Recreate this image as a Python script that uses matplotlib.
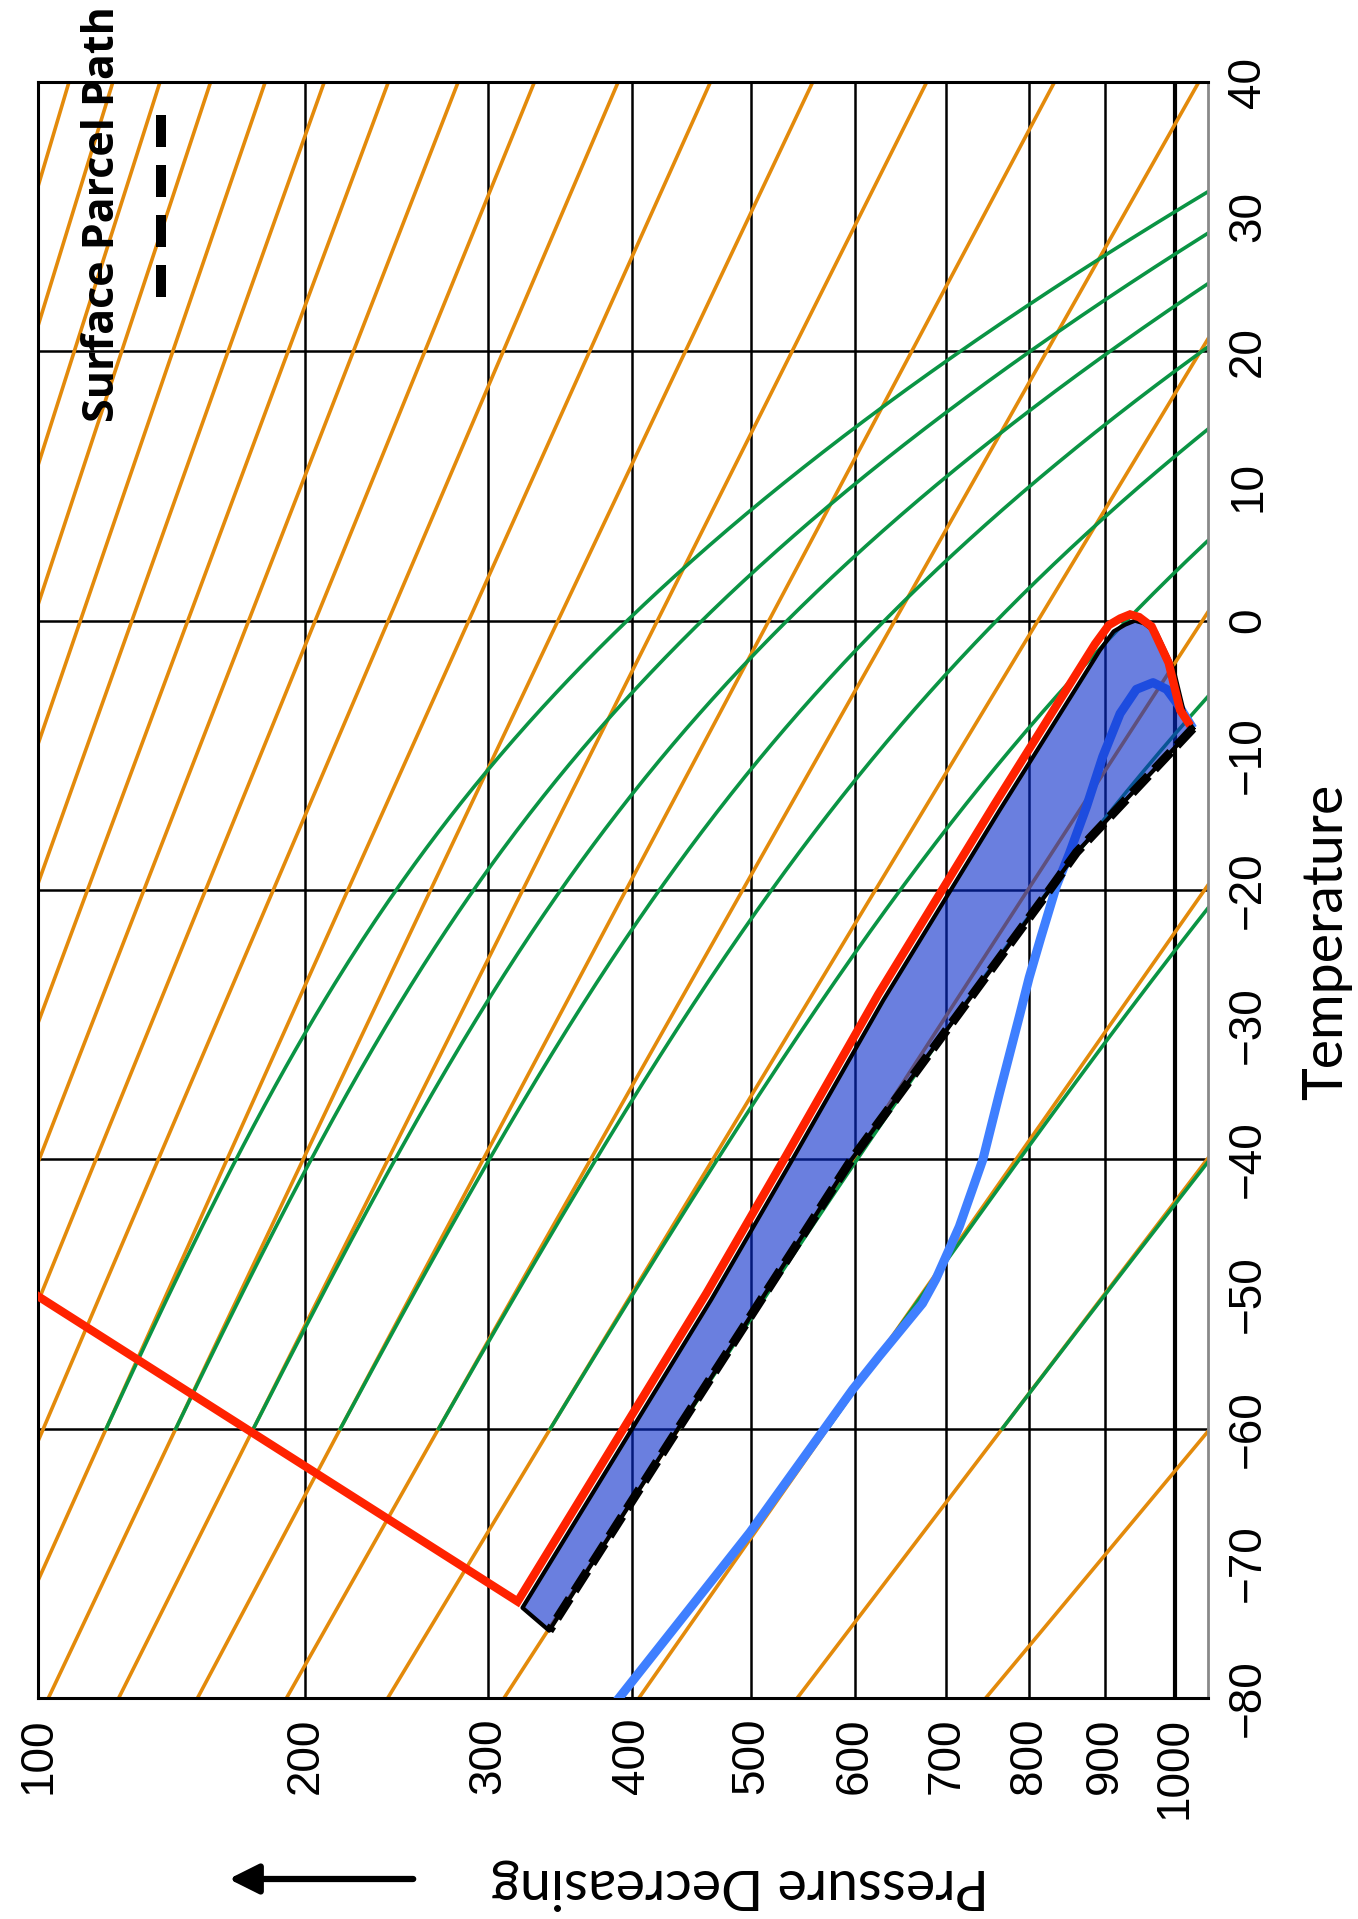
import numpy as np
import matplotlib
matplotlib.use("Agg")
import matplotlib.pyplot as plt
import matplotlib.transforms as mtransforms
from matplotlib.lines import Line2D

KAPPA = 0.286

# axis ticks
pressure_ticks = [100, 200, 300, 400, 500, 600, 700, 800, 900, 1000]
temp_ticks = [-80, -70, -60, -50, -40, -30, -20, -10, 0, 10, 20, 30, 40]
temp_grid = [-60, -40, -20, 0, 20]

# dry adiabats (potential temperature, K), orange
dry_theta = [190, 210, 230, 250, 270, 290, 310, 330, 350, 370, 390, 410,
             430, 450, 470, 490, 510, 530, 550, 570, 590, 610]
# moist adiabats (green) leave these dry adiabats at -60 C
moist_theta = [230, 250, 270, 290, 310, 330, 350, 370, 390]

# environmental sounding (hPa, C)
env_p = [1027, 1015, 998, 973, 955, 942, 928, 912, 893, 763, 630, 537, 465, 322]
env_t = [-8, -7.1, -3.6, -0.9, -0.2, 0, -0.3, -0.8, -2.2, -14.1, -28.2, -40.2, -50.4, -73.3]
strat_p = [322, 100]
strat_t = [-73.3, -50.4]

# dewpoint
dew_p = [1027, 1007, 988, 968, 944, 921, 897, 875, 852, 835, 815, 800, 788,
         763, 743, 715, 688, 673, 626, 598, 499, 388]
dew_t = [-8, -6.4, -5.1, -4.6, -5.1, -6.9, -10.1, -13.8, -17.3, -19.7, -23.5, -26.5, -29.3,
         -35.1, -40.0, -45.0, -48.9, -50.7, -54.6, -57.1, -67.7, -80.3]

# surface parcel path
parcel_p = [1027, 861.6, 826, 597, 430, 340]
parcel_t = [-8, -17.2, -20, -40, -61, -75]


def moist_lapse(p, t):
    es = 6.112 * np.exp(17.67 * (t - 273.15) / (t - 29.65))
    rs = 0.622 * es / (p - es)
    num = 287.04 * t + 2.501e6 * rs
    den = 1005.7 + 2.501e6 ** 2 * rs * 0.622 / (287.04 * t * t)
    return num / den / p


def moist_adiabat(theta):
    p_start = 1000.0 * (213.15 / theta) ** (1 / KAPPA)
    p = np.linspace(p_start, 1050.0, 400)
    t = np.empty_like(p)
    t[0] = 213.15
    for i in range(1, len(p)):
        dp = p[i] - p[i - 1]
        k1 = moist_lapse(p[i - 1], t[i - 1])
        k2 = moist_lapse(p[i - 1] + dp / 2, t[i - 1] + k1 * dp / 2)
        t[i] = t[i - 1] + k2 * dp
    return p, t - 273.15


fig = plt.figure(figsize=(13.58, 19.19), dpi=100)
ax = fig.add_axes([38 / 1358, 1 - 1698 / 1919, 1170 / 1358, 1616 / 1919])
ax.set_xscale("function", functions=(lambda p: np.power(np.abs(p), KAPPA),
                                     lambda y: np.power(np.abs(y), 1 / KAPPA)))
ax.set_xlim(100, 1050)
ax.set_ylim(-80, 40)

# grid
for p in pressure_ticks[1:]:
    ax.axvline(p, color="black", lw=3.0 if p == 1000 else 1.8, zorder=1)
for t in temp_grid:
    ax.axhline(t, color="black", lw=1.8, zorder=1)

# dry adiabats
p_line = np.array([100.0, 1050.0])
for th in dry_theta:
    ax.plot(p_line, th * (p_line / 1000) ** KAPPA - 273.15, color="#E38A0B", lw=2.6, zorder=2)

# moist adiabats
for th in moist_theta:
    mp, mt = moist_adiabat(th)
    ax.plot(mp, mt, color="#0A9444", lw=2.6, zorder=2.5)

# dewpoint (under the shading)
ax.plot(dew_p, dew_t, color="#3F7FFF", lw=6.5, solid_capstyle="butt", zorder=3)

# shaded area between environment and parcel
ax.fill(np.r_[env_p, parcel_p[::-1]], np.r_[env_t, parcel_t[::-1]],
        facecolor="#072ACB", alpha=0.6, edgecolor="none", zorder=4)
ax.plot(np.r_[env_p, parcel_p[::-1], env_p[:1]], np.r_[env_t, parcel_t[::-1], env_t[:1]],
        color="black", lw=3, zorder=4.5)

# environmental temperature (red)
red_tr = mtransforms.offset_copy(ax.transData, fig=fig, x=-3.5, y=4.5, units="points")
ax.plot(env_p + strat_p[1:], env_t + strat_t[1:], color="#FF2200", lw=6,
        solid_joinstyle="miter", transform=red_tr, zorder=5)

# parcel path
ax.plot(parcel_p, parcel_t, color="black", lw=6.5, dashes=(2.6, 1.0),
        dash_capstyle="butt", zorder=6)

# axes styling
ax.set_xticks(pressure_ticks)
ax.set_xticklabels([str(p) for p in pressure_ticks])
ax.set_yticks(temp_ticks)
ax.yaxis.tick_right()
ax.tick_params(axis="x", length=0, pad=14, labelsize=33, labelrotation=90)
ax.tick_params(axis="y", length=0, pad=13, labelsize=33)
for lab in ax.get_xticklabels() + ax.get_yticklabels():
    lab.set_fontfamily("Liberation Sans")
for lab in ax.get_yticklabels():
    lab.set_rotation(90)
    lab.set_va("center")
for side in ["left", "top", "bottom"]:
    ax.spines[side].set_linewidth(2.2)
ax.spines["right"].set_color("#8A8A8A")
ax.spines["right"].set_linewidth(2.0)

# labels
fig.text(1327 / 1358, 1 - 942 / 1919, "Temperature", rotation=90, ha="center", va="center",
         fontsize=40, family="Lato")
fig.text(740 / 1358, 1 - 1885 / 1919, "Pressure Decreasing", rotation=180, ha="center",
         va="center", fontsize=40, family="Lato")
fig.add_artist(matplotlib.patches.FancyArrowPatch(
    (416 / 1358, 1 - 1879 / 1919), (226 / 1358, 1 - 1879 / 1919), transform=fig.transFigure,
    arrowstyle="-|>", mutation_scale=45, lw=4.5, color="black"))

# legend
fig.text(103 / 1358, 1 - 214 / 1919, "Surface Parcel Path", rotation=90, ha="center",
         va="center", fontsize=31, fontweight="bold", family="Open Sans")
fig.add_artist(Line2D([161 / 1358, 161 / 1358], [1 - 115 / 1919, 1 - 298 / 1919],
                      transform=fig.transFigure, color="black", lw=7.2,
                      dashes=(3.2, 1.8), dash_capstyle="butt"))

fig.savefig("out.png", dpi=100)
